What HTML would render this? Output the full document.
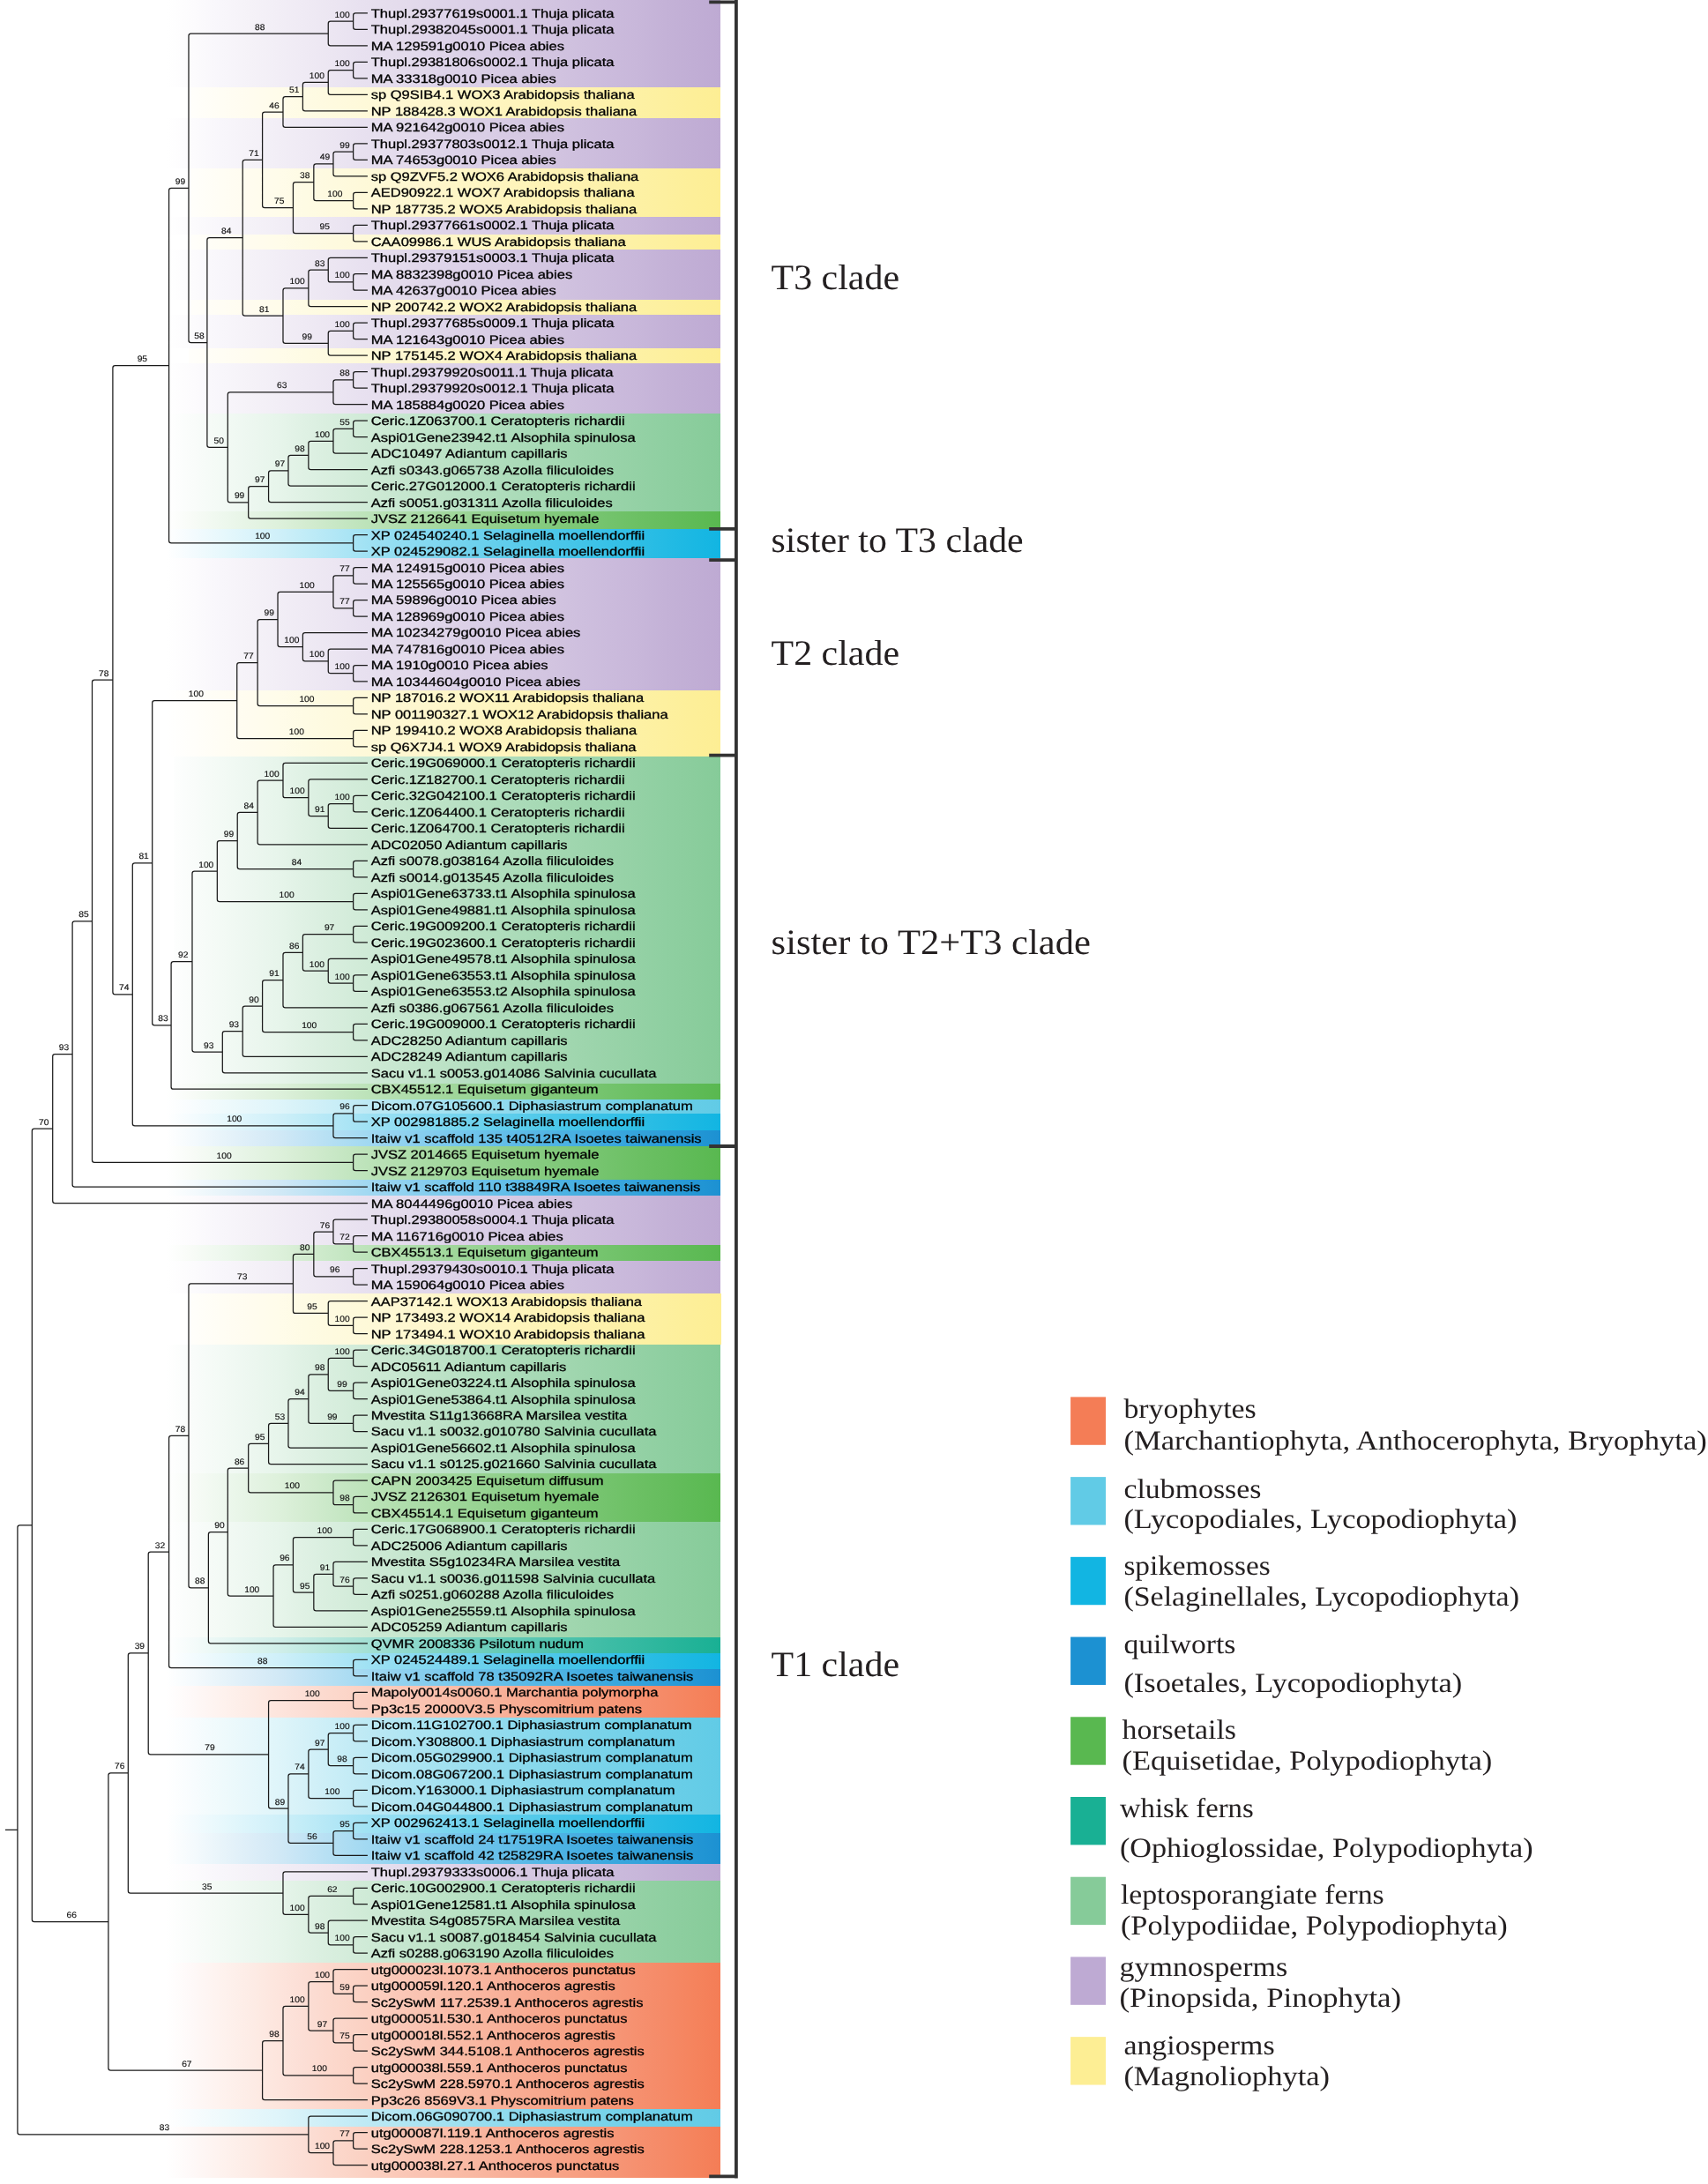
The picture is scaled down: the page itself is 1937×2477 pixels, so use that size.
<!DOCTYPE html>
<html lang="en"><head><meta charset="utf-8"><title>WOX phylogeny</title>
<style>html,body{margin:0;padding:0;background:#fff}svg{display:block;will-change:transform;opacity:.9999}text{text-rendering:geometricPrecision}.lf{font-family:"Liberation Sans",sans-serif;font-size:13.75px;fill:#000;stroke:#000;stroke-width:.3px}.bs{font-family:"Liberation Sans",sans-serif;font-size:9.6px;fill:#111;text-anchor:middle;stroke:#111;stroke-width:.15px}.cl{font-family:"Liberation Serif",serif;font-size:40.5px;fill:#231f20}.lg{font-family:"Liberation Serif",serif;font-size:31.2px;fill:#231f20}</style></head><body>
<svg width="1937" height="2477" viewBox="0 0 1937 2477">
<defs>
<linearGradient id="g-bry" gradientUnits="userSpaceOnUse" x1="189" y1="0" x2="816.9" y2="0"><stop offset="0" stop-color="#ffffff"/><stop offset="0.05" stop-color="#fef8f7"/><stop offset="0.1" stop-color="#fef2ee"/><stop offset="0.15" stop-color="#fdece6"/><stop offset="0.2" stop-color="#fde5dd"/><stop offset="0.25" stop-color="#fcded5"/><stop offset="0.3" stop-color="#fcd8cc"/><stop offset="0.35" stop-color="#fbd2c4"/><stop offset="0.4" stop-color="#fbcbbb"/><stop offset="0.45" stop-color="#fac4b3"/><stop offset="0.5" stop-color="#fabeaa"/><stop offset="0.55" stop-color="#f9b8a2"/><stop offset="0.6" stop-color="#f8b19a"/><stop offset="0.65" stop-color="#f8aa91"/><stop offset="0.7" stop-color="#f7a489"/><stop offset="0.75" stop-color="#f79e80"/><stop offset="0.8" stop-color="#f69778"/><stop offset="0.85" stop-color="#f6906f"/><stop offset="0.9" stop-color="#f58a67"/><stop offset="0.95" stop-color="#f5845e"/><stop offset="1" stop-color="#f47d56"/></linearGradient>
<linearGradient id="g-club" gradientUnits="userSpaceOnUse" x1="189" y1="0" x2="816.9" y2="0"><stop offset="0" stop-color="#ffffff"/><stop offset="0.05" stop-color="#f7fcfe"/><stop offset="0.1" stop-color="#effafc"/><stop offset="0.15" stop-color="#e7f7fb"/><stop offset="0.2" stop-color="#dff5fa"/><stop offset="0.25" stop-color="#d5f1f8"/><stop offset="0.3" stop-color="#caeef7"/><stop offset="0.35" stop-color="#c0eaf5"/><stop offset="0.4" stop-color="#b6e7f3"/><stop offset="0.45" stop-color="#ace4f2"/><stop offset="0.5" stop-color="#a3e1f0"/><stop offset="0.55" stop-color="#9adeef"/><stop offset="0.6" stop-color="#92dbee"/><stop offset="0.65" stop-color="#8ad9ed"/><stop offset="0.7" stop-color="#83d6eb"/><stop offset="0.75" stop-color="#7dd4ea"/><stop offset="0.8" stop-color="#77d2e9"/><stop offset="0.85" stop-color="#71d0e9"/><stop offset="0.9" stop-color="#6bcee8"/><stop offset="0.95" stop-color="#66cde7"/><stop offset="1" stop-color="#61cbe6"/></linearGradient>
<linearGradient id="g-spike" gradientUnits="userSpaceOnUse" x1="189" y1="0" x2="816.9" y2="0"><stop offset="0" stop-color="#ffffff"/><stop offset="0.05" stop-color="#f3fbfe"/><stop offset="0.1" stop-color="#e7f8fc"/><stop offset="0.15" stop-color="#dbf4fb"/><stop offset="0.2" stop-color="#d0f0f9"/><stop offset="0.25" stop-color="#c1ecf7"/><stop offset="0.3" stop-color="#b3e7f6"/><stop offset="0.35" stop-color="#a4e3f4"/><stop offset="0.4" stop-color="#96def2"/><stop offset="0.45" stop-color="#89daf1"/><stop offset="0.5" stop-color="#7cd6ef"/><stop offset="0.55" stop-color="#6fd2ed"/><stop offset="0.6" stop-color="#63ceec"/><stop offset="0.65" stop-color="#57cbea"/><stop offset="0.7" stop-color="#4cc7e9"/><stop offset="0.75" stop-color="#42c4e8"/><stop offset="0.8" stop-color="#37c1e7"/><stop offset="0.85" stop-color="#2ebee5"/><stop offset="0.9" stop-color="#24bbe4"/><stop offset="0.95" stop-color="#1bb8e3"/><stop offset="1" stop-color="#12b5e2"/></linearGradient>
<linearGradient id="g-quil" gradientUnits="userSpaceOnUse" x1="189" y1="0" x2="816.9" y2="0"><stop offset="0" stop-color="#ffffff"/><stop offset="0.05" stop-color="#f4fafd"/><stop offset="0.1" stop-color="#e8f4fa"/><stop offset="0.15" stop-color="#ddeef8"/><stop offset="0.2" stop-color="#d2e9f6"/><stop offset="0.25" stop-color="#c3e4f5"/><stop offset="0.3" stop-color="#b4dff3"/><stop offset="0.35" stop-color="#a5daf2"/><stop offset="0.4" stop-color="#97d4f0"/><stop offset="0.45" stop-color="#8acfef"/><stop offset="0.5" stop-color="#7dcaed"/><stop offset="0.55" stop-color="#70c4eb"/><stop offset="0.6" stop-color="#65bfe9"/><stop offset="0.65" stop-color="#5ab9e6"/><stop offset="0.7" stop-color="#4fb4e4"/><stop offset="0.75" stop-color="#46aee1"/><stop offset="0.8" stop-color="#3ca8de"/><stop offset="0.85" stop-color="#34a3db"/><stop offset="0.9" stop-color="#2c9dd8"/><stop offset="0.95" stop-color="#2497d5"/><stop offset="1" stop-color="#1c91d2"/></linearGradient>
<linearGradient id="g-horse" gradientUnits="userSpaceOnUse" x1="189" y1="0" x2="816.9" y2="0"><stop offset="0" stop-color="#ffffff"/><stop offset="0.05" stop-color="#f7fbf6"/><stop offset="0.1" stop-color="#eef8ee"/><stop offset="0.15" stop-color="#e6f4e5"/><stop offset="0.2" stop-color="#def1dc"/><stop offset="0.25" stop-color="#d4ecd1"/><stop offset="0.3" stop-color="#c9e8c7"/><stop offset="0.35" stop-color="#bfe4bc"/><stop offset="0.4" stop-color="#b6e0b2"/><stop offset="0.45" stop-color="#acdca8"/><stop offset="0.5" stop-color="#a3d89e"/><stop offset="0.55" stop-color="#9ad495"/><stop offset="0.6" stop-color="#92d08c"/><stop offset="0.65" stop-color="#89cd83"/><stop offset="0.7" stop-color="#82c97b"/><stop offset="0.75" stop-color="#7ac673"/><stop offset="0.8" stop-color="#73c36c"/><stop offset="0.85" stop-color="#6cc064"/><stop offset="0.9" stop-color="#66bd5e"/><stop offset="0.95" stop-color="#5fbb57"/><stop offset="1" stop-color="#59b850"/></linearGradient>
<linearGradient id="g-whisk" gradientUnits="userSpaceOnUse" x1="189" y1="0" x2="816.9" y2="0"><stop offset="0" stop-color="#ffffff"/><stop offset="0.05" stop-color="#f4fbfa"/><stop offset="0.1" stop-color="#e8f7f4"/><stop offset="0.15" stop-color="#dcf3ef"/><stop offset="0.2" stop-color="#d1efea"/><stop offset="0.25" stop-color="#c3eae3"/><stop offset="0.3" stop-color="#b5e6dc"/><stop offset="0.35" stop-color="#a7e1d6"/><stop offset="0.4" stop-color="#99dcd0"/><stop offset="0.45" stop-color="#8cd8ca"/><stop offset="0.5" stop-color="#7fd3c4"/><stop offset="0.55" stop-color="#73cfbe"/><stop offset="0.6" stop-color="#67cbb8"/><stop offset="0.65" stop-color="#5cc7b3"/><stop offset="0.7" stop-color="#51c3ae"/><stop offset="0.75" stop-color="#47c0a9"/><stop offset="0.8" stop-color="#3dbca5"/><stop offset="0.85" stop-color="#34b9a1"/><stop offset="0.9" stop-color="#2bb69c"/><stop offset="0.95" stop-color="#22b398"/><stop offset="1" stop-color="#19b094"/></linearGradient>
<linearGradient id="g-lepto" gradientUnits="userSpaceOnUse" x1="189" y1="0" x2="816.9" y2="0"><stop offset="0" stop-color="#ffffff"/><stop offset="0.05" stop-color="#f9fcfa"/><stop offset="0.1" stop-color="#f3faf5"/><stop offset="0.15" stop-color="#edf7f0"/><stop offset="0.2" stop-color="#e7f5eb"/><stop offset="0.25" stop-color="#dff1e4"/><stop offset="0.3" stop-color="#d8eede"/><stop offset="0.35" stop-color="#d1ebd8"/><stop offset="0.4" stop-color="#cae8d2"/><stop offset="0.45" stop-color="#c3e5cc"/><stop offset="0.5" stop-color="#bce2c6"/><stop offset="0.55" stop-color="#b5dfc1"/><stop offset="0.6" stop-color="#afddbc"/><stop offset="0.65" stop-color="#a9dab7"/><stop offset="0.7" stop-color="#a4d8b2"/><stop offset="0.75" stop-color="#9ed5ad"/><stop offset="0.8" stop-color="#99d3a9"/><stop offset="0.85" stop-color="#94d1a5"/><stop offset="0.9" stop-color="#8fcfa1"/><stop offset="0.95" stop-color="#8bcd9d"/><stop offset="1" stop-color="#86cb99"/></linearGradient>
<linearGradient id="g-gym" gradientUnits="userSpaceOnUse" x1="189" y1="0" x2="816.9" y2="0"><stop offset="0" stop-color="#ffffff"/><stop offset="0.05" stop-color="#fcfbfd"/><stop offset="0.1" stop-color="#f8f6fb"/><stop offset="0.15" stop-color="#f5f2f8"/><stop offset="0.2" stop-color="#f2eef6"/><stop offset="0.25" stop-color="#efeaf4"/><stop offset="0.3" stop-color="#ece6f2"/><stop offset="0.35" stop-color="#e8e1f0"/><stop offset="0.4" stop-color="#e5dded"/><stop offset="0.45" stop-color="#e2d9eb"/><stop offset="0.5" stop-color="#ded4e9"/><stop offset="0.55" stop-color="#dbd0e7"/><stop offset="0.6" stop-color="#d8cce5"/><stop offset="0.65" stop-color="#d5c8e2"/><stop offset="0.7" stop-color="#d2c4e0"/><stop offset="0.75" stop-color="#cebfde"/><stop offset="0.8" stop-color="#cbbbdc"/><stop offset="0.85" stop-color="#c8b7da"/><stop offset="0.9" stop-color="#c4b2d7"/><stop offset="0.95" stop-color="#c1aed5"/><stop offset="1" stop-color="#beaad3"/></linearGradient>
<linearGradient id="g-ang" gradientUnits="userSpaceOnUse" x1="189" y1="0" x2="816.9" y2="0"><stop offset="0" stop-color="#ffffff"/><stop offset="0.05" stop-color="#fffefa"/><stop offset="0.1" stop-color="#fffdf4"/><stop offset="0.15" stop-color="#fffcef"/><stop offset="0.2" stop-color="#fffcea"/><stop offset="0.25" stop-color="#fefbe4"/><stop offset="0.3" stop-color="#fefadf"/><stop offset="0.35" stop-color="#fef9da"/><stop offset="0.4" stop-color="#fef8d4"/><stop offset="0.45" stop-color="#fef7cf"/><stop offset="0.5" stop-color="#fef6ca"/><stop offset="0.55" stop-color="#fef6c4"/><stop offset="0.6" stop-color="#fef5bf"/><stop offset="0.65" stop-color="#fef4b9"/><stop offset="0.7" stop-color="#fef3b4"/><stop offset="0.75" stop-color="#fef2af"/><stop offset="0.8" stop-color="#fdf1a9"/><stop offset="0.85" stop-color="#fdf1a4"/><stop offset="0.9" stop-color="#fdf09f"/><stop offset="0.95" stop-color="#fdef99"/><stop offset="1" stop-color="#fdee94"/></linearGradient>
</defs>
<rect width="1937" height="2477" fill="#fff"/>
<g id="bands" shape-rendering="crispEdges">
<rect x="189" y="0" width="627.9" height="98.9" fill="url(#g-gym)"/>
<rect x="214" y="98.9" width="602.9" height="34.9" fill="url(#g-ang)"/>
<rect x="189" y="133.8" width="627.9" height="57.1" fill="url(#g-gym)"/>
<rect x="214" y="190.9" width="602.9" height="55" fill="url(#g-ang)"/>
<rect x="189" y="245.9" width="627.9" height="20.2" fill="url(#g-gym)"/>
<rect x="214" y="266.1" width="602.9" height="17" fill="url(#g-ang)"/>
<rect x="189" y="283.1" width="627.9" height="56.5" fill="url(#g-gym)"/>
<rect x="214" y="339.6" width="602.9" height="17" fill="url(#g-ang)"/>
<rect x="189" y="356.6" width="627.9" height="38.7" fill="url(#g-gym)"/>
<rect x="214" y="395.3" width="602.9" height="16.7" fill="url(#g-ang)"/>
<rect x="189" y="412" width="627.9" height="57" fill="url(#g-gym)"/>
<rect x="189" y="469" width="627.9" height="111" fill="url(#g-lepto)"/>
<rect x="189" y="580" width="627.9" height="20.2" fill="url(#g-horse)"/>
<rect x="189" y="600.2" width="627.9" height="32.5" fill="url(#g-spike)"/>
<rect x="189" y="632.7" width="627.9" height="150" fill="url(#g-gym)"/>
<rect x="172.5" y="782.7" width="644.4" height="74.8" fill="url(#g-ang)"/>
<rect x="197" y="857.5" width="619.9" height="371.5" fill="url(#g-lepto)"/>
<rect x="189" y="1229" width="627.9" height="18" fill="url(#g-horse)"/>
<rect x="189" y="1247" width="627.9" height="16.1" fill="url(#g-club)"/>
<rect x="189" y="1263.1" width="627.9" height="19.2" fill="url(#g-spike)"/>
<rect x="189" y="1282.3" width="627.9" height="17.7" fill="url(#g-quil)"/>
<rect x="189" y="1300" width="627.9" height="37.7" fill="url(#g-horse)"/>
<rect x="189" y="1337.7" width="627.9" height="18.3" fill="url(#g-quil)"/>
<rect x="189" y="1356" width="627.9" height="55.7" fill="url(#g-gym)"/>
<rect x="189" y="1411.7" width="627.9" height="18" fill="url(#g-horse)"/>
<rect x="189" y="1429.7" width="627.9" height="36.8" fill="url(#g-gym)"/>
<rect x="214" y="1466.5" width="604.1" height="58.4" fill="url(#g-ang)"/>
<rect x="189" y="1524.9" width="627.9" height="145.8" fill="url(#g-lepto)"/>
<rect x="189" y="1670.7" width="627.9" height="55.2" fill="url(#g-horse)"/>
<rect x="189" y="1725.9" width="627.9" height="131.2" fill="url(#g-lepto)"/>
<rect x="189" y="1857.1" width="627.9" height="17.9" fill="url(#g-whisk)"/>
<rect x="189" y="1875" width="627.9" height="18" fill="url(#g-spike)"/>
<rect x="189" y="1893" width="627.9" height="19.1" fill="url(#g-quil)"/>
<rect x="189" y="1912.1" width="627.9" height="35.6" fill="url(#g-bry)"/>
<rect x="189" y="1947.7" width="627.9" height="110.2" fill="url(#g-club)"/>
<rect x="189" y="2057.9" width="627.9" height="21.2" fill="url(#g-spike)"/>
<rect x="189" y="2079.1" width="627.9" height="34.6" fill="url(#g-quil)"/>
<rect x="189" y="2113.7" width="627.9" height="19.1" fill="url(#g-gym)"/>
<rect x="189" y="2132.8" width="627.9" height="92.8" fill="url(#g-lepto)"/>
<rect x="189" y="2225.6" width="627.9" height="166.1" fill="url(#g-bry)"/>
<rect x="189" y="2391.7" width="627.9" height="20.4" fill="url(#g-club)"/>
<rect x="189" y="2412.1" width="627.9" height="57.5" fill="url(#g-bry)"/>
</g>
<path id="tree" fill="none" stroke="#1a1a1a" stroke-width="1.25" d="M5.97 2075.36H19.91M36.33 1729.81H22.51Q19.91 1729.81 19.91 1732.41V2418.31Q19.91 2420.91 22.51 2420.91H349.86M59.72 1280.08H38.93Q36.33 1280.08 36.33 1282.68V2176.94Q36.33 2179.54 38.93 2179.54H122.92M82.11 1195.5H62.32Q59.72 1195.5 59.72 1198.1V1362.07Q59.72 1364.67 62.32 1364.67H416.9M104.51 1044.81H84.71Q82.11 1044.81 82.11 1047.41V1343.58Q82.11 1346.18 84.71 1346.18H416.9M127.9 771.18H107.11Q104.51 771.18 104.51 773.78V1315.85Q104.51 1318.45 107.11 1318.45H400.62M191.6 414.55H130.5Q127.9 414.55 127.9 417.15V1125.22Q127.9 1127.82 130.5 1127.82H150.29M213.99 213.27H194.2Q191.6 213.27 191.6 215.87V613.22Q191.6 615.82 194.2 615.82H400.62M372.25 38.01H216.59Q213.99 38.01 213.99 40.61V385.93Q213.99 388.53 216.59 388.53H234.9M400.62 24.14H374.85Q372.25 24.14 372.25 26.75V49.28Q372.25 51.88 374.85 51.88H416.9M416.9 14.9H403.22Q400.62 14.9 400.62 17.5V30.79Q400.62 33.39 403.22 33.39H416.9M275.21 269.72H237.5Q234.9 269.72 234.9 272.32V504.74Q234.9 507.34 237.5 507.34H258.29M297.6 181.31H277.81Q275.21 181.31 275.21 183.91V355.52Q275.21 358.12 277.81 358.12H320.99M320.99 127H300.2Q297.6 127 297.6 129.6V233.02Q297.6 235.62 300.2 235.62H332.44M343.39 109.66H323.59Q320.99 109.66 320.99 112.26V141.73Q320.99 144.33 323.59 144.33H416.9M372.25 93.48H345.99Q343.39 93.48 343.39 96.08V123.24Q343.39 125.84 345.99 125.84H416.9M400.62 79.62H374.85Q372.25 79.62 372.25 82.22V104.75Q372.25 107.35 374.85 107.35H416.9M416.9 70.37H403.22Q400.62 70.37 400.62 72.97V86.26Q400.62 88.86 403.22 88.86H416.9M355.83 206.73H335.04Q332.44 206.73 332.44 209.33V261.91Q332.44 264.51 335.04 264.51H400.62M377.97 185.93H358.43Q355.83 185.93 355.83 188.53V224.94Q355.83 227.53 358.43 227.53H400.62M400.62 172.06H380.57Q377.97 172.06 377.97 174.66V197.2Q377.97 199.8 380.57 199.8H416.9M416.9 162.82H403.22Q400.62 162.82 400.62 165.42V178.71Q400.62 181.31 403.22 181.31H416.9M416.9 218.29H403.22Q400.62 218.29 400.62 220.89V234.18Q400.62 236.78 403.22 236.78H416.9M416.9 255.27H403.22Q400.62 255.27 400.62 257.87V271.16Q400.62 273.76 403.22 273.76H416.9M349.86 326.92H323.59Q320.99 326.92 320.99 329.52V386.72Q320.99 389.32 323.59 389.32H372.25M372.25 306.12H352.46Q349.86 306.12 349.86 308.72V345.12Q349.86 347.72 352.46 347.72H416.9M416.9 292.25H374.85Q372.25 292.25 372.25 294.85V317.38Q372.25 319.98 374.85 319.98H400.62M416.9 310.74H403.22Q400.62 310.74 400.62 313.34V326.63Q400.62 329.23 403.22 329.23H416.9M400.62 375.45H374.85Q372.25 375.45 372.25 378.05V400.59Q372.25 403.19 374.85 403.19H416.9M416.9 366.21H403.22Q400.62 366.21 400.62 368.81V382.1Q400.62 384.7 403.22 384.7H416.9M377.97 444.79H260.89Q258.29 444.79 258.29 447.39V567.29Q258.29 569.89 260.89 569.89H281.68M400.62 430.92H380.57Q377.97 430.92 377.97 433.52V456.06Q377.97 458.66 380.57 458.66H416.9M416.9 421.68H403.22Q400.62 421.68 400.62 424.28V437.57Q400.62 440.17 403.22 440.17H416.9M304.57 551.69H284.28Q281.68 551.69 281.68 554.29V585.49Q281.68 588.09 284.28 588.09H416.9M326.96 533.78H307.17Q304.57 533.78 304.57 536.38V567Q304.57 569.6 307.17 569.6H416.9M349.86 516.44H329.56Q326.96 516.44 326.96 519.04V548.51Q326.96 551.11 329.56 551.11H416.9M377.97 500.26H352.46Q349.86 500.26 349.86 502.86V530.02Q349.86 532.62 352.46 532.62H416.9M400.62 486.39H380.57Q377.97 486.39 377.97 488.99V511.53Q377.97 514.13 380.57 514.13H416.9M416.9 477.15H403.22Q400.62 477.15 400.62 479.75V493.04Q400.62 495.64 403.22 495.64H416.9M416.9 606.58H403.22Q400.62 606.58 400.62 609.18V622.47Q400.62 625.07 403.22 625.07H416.9M172.69 978.8H152.89Q150.29 978.8 150.29 981.4V1274.24Q150.29 1276.84 152.89 1276.84H377.97M268.74 794.66H175.29Q172.69 794.66 172.69 797.26V1160.34Q172.69 1162.94 175.29 1162.94H194.09M292.13 751.61H271.34Q268.74 751.61 268.74 754.21V835.1Q268.74 837.7 271.34 837.7H400.62M315.02 702.5H294.73Q292.13 702.5 292.13 705.1V798.12Q292.13 800.72 294.73 800.72H400.62M377.97 671.29H317.62Q315.02 671.29 315.02 673.89V731.1Q315.02 733.7 317.62 733.7H343.39M400.62 652.8H380.57Q377.97 652.8 377.97 655.4V687.18Q377.97 689.78 380.57 689.78H400.62M416.9 643.56H403.22Q400.62 643.56 400.62 646.16V659.45Q400.62 662.05 403.22 662.05H416.9M416.9 680.54H403.22Q400.62 680.54 400.62 683.14V696.43Q400.62 699.03 403.22 699.03H416.9M416.9 717.52H345.99Q343.39 717.52 343.39 720.12V747.28Q343.39 749.88 345.99 749.88H372.25M416.9 736.01H374.85Q372.25 736.01 372.25 738.61V761.14Q372.25 763.74 374.85 763.74H400.62M416.9 754.5H403.22Q400.62 754.5 400.62 757.1V770.39Q400.62 772.99 403.22 772.99H416.9M416.9 791.48H403.22Q400.62 791.48 400.62 794.08V807.37Q400.62 809.97 403.22 809.97H416.9M416.9 828.46H403.22Q400.62 828.46 400.62 831.06V844.35Q400.62 846.95 403.22 846.95H416.9M217.98 1090.64H196.69Q194.09 1090.64 194.09 1093.24V1232.64Q194.09 1235.24 196.69 1235.24H416.9M246.34 988.08H220.58Q217.98 988.08 217.98 990.68V1190.6Q217.98 1193.2 220.58 1193.2H252.31M269.23 953.56H248.94Q246.34 953.56 246.34 956.16V1020Q246.34 1022.6 248.94 1022.6H400.62M292.13 921.49H271.83Q269.23 921.49 269.23 924.09V983.02Q269.23 985.62 271.83 985.62H400.62M320.99 885.09H294.73Q292.13 885.09 292.13 887.69V955.29Q292.13 957.89 294.73 957.89H416.9M416.9 865.44H323.59Q320.99 865.44 320.99 868.04V902.13Q320.99 904.73 323.59 904.73H349.86M416.9 883.93H352.46Q349.86 883.93 349.86 886.53V922.93Q349.86 925.53 352.46 925.53H372.25M400.62 911.66H374.85Q372.25 911.66 372.25 914.26V936.8Q372.25 939.4 374.85 939.4H416.9M416.9 902.42H403.22Q400.62 902.42 400.62 905.02V918.31Q400.62 920.91 403.22 920.91H416.9M416.9 976.38H403.22Q400.62 976.38 400.62 978.98V992.27Q400.62 994.87 403.22 994.87H416.9M416.9 1013.36H403.22Q400.62 1013.36 400.62 1015.96V1029.25Q400.62 1031.85 403.22 1031.85H416.9M275.21 1169.66H254.91Q252.31 1169.66 252.31 1172.26V1214.15Q252.31 1216.75 254.91 1216.75H416.9M297.6 1141.06H277.81Q275.21 1141.06 275.21 1143.66V1195.66Q275.21 1198.26 277.81 1198.26H416.9M320.99 1111.59H300.2Q297.6 1111.59 297.6 1114.19V1167.93Q297.6 1170.53 300.2 1170.53H400.62M343.39 1080.39H323.59Q320.99 1080.39 320.99 1082.99V1140.19Q320.99 1142.79 323.59 1142.79H416.9M400.62 1059.59H345.99Q343.39 1059.59 343.39 1062.18V1098.59Q343.39 1101.19 345.99 1101.19H372.25M416.9 1050.34H403.22Q400.62 1050.34 400.62 1052.94V1066.23Q400.62 1068.83 403.22 1068.83H416.9M416.9 1087.32H374.85Q372.25 1087.32 372.25 1089.92V1112.45Q372.25 1115.05 374.85 1115.05H400.62M416.9 1105.81H403.22Q400.62 1105.81 400.62 1108.41V1121.7Q400.62 1124.3 403.22 1124.3H416.9M416.9 1161.28H403.22Q400.62 1161.28 400.62 1163.88V1177.17Q400.62 1179.77 403.22 1179.77H416.9M400.62 1262.97H380.57Q377.97 1262.97 377.97 1265.57V1288.11Q377.97 1290.71 380.57 1290.71H416.9M416.9 1253.73H403.22Q400.62 1253.73 400.62 1256.33V1269.62Q400.62 1272.22 403.22 1272.22H416.9M416.9 1309.2H403.22Q400.62 1309.2 400.62 1311.8V1325.09Q400.62 1327.69 403.22 1327.69H416.9M145.32 2010.98H125.52Q122.92 2010.98 122.92 2013.58V2345.51Q122.92 2348.11 125.52 2348.11H297.6M168.21 1874.93H147.92Q145.32 1874.93 145.32 1877.53V2144.43Q145.32 2147.03 147.92 2147.03H320.99M191.6 1760H170.81Q168.21 1760 168.21 1762.6V1987.26Q168.21 1989.86 170.81 1989.86H304.57M213.99 1628.37H194.2Q191.6 1628.37 191.6 1630.97V1889.03Q191.6 1891.63 194.2 1891.63H400.62M332.44 1455.96H216.59Q213.99 1455.96 213.99 1458.56V1798.17Q213.99 1800.77 216.59 1800.77H236.39M355.83 1422.45H335.04Q332.44 1422.45 332.44 1425.05V1486.88Q332.44 1489.48 335.04 1489.48H372.25M377.97 1397.03H358.43Q355.83 1397.03 355.83 1399.63V1445.28Q355.83 1447.88 358.43 1447.88H400.62M416.9 1383.16H380.57Q377.97 1383.16 377.97 1385.76V1408.3Q377.97 1410.89 380.57 1410.89H400.62M416.9 1401.65H403.22Q400.62 1401.65 400.62 1404.25V1417.54Q400.62 1420.14 403.22 1420.14H416.9M416.9 1438.63H403.22Q400.62 1438.63 400.62 1441.23V1454.52Q400.62 1457.12 403.22 1457.12H416.9M416.9 1475.61H374.85Q372.25 1475.61 372.25 1478.21V1500.74Q372.25 1503.34 374.85 1503.34H400.62M416.9 1494.1H403.22Q400.62 1494.1 400.62 1496.7V1509.99Q400.62 1512.59 403.22 1512.59H416.9M258.29 1737.65H238.99Q236.39 1737.65 236.39 1740.25V1861.3Q236.39 1863.9 238.99 1863.9H416.9M281.68 1665.13H260.89Q258.29 1665.13 258.29 1667.73V1807.56Q258.29 1810.16 260.89 1810.16H310.04M304.57 1637.4H284.28Q281.68 1637.4 281.68 1640V1690.27Q281.68 1692.87 284.28 1692.87H377.97M326.96 1614.28H307.17Q304.57 1614.28 304.57 1616.88V1657.91Q304.57 1660.51 307.17 1660.51H416.9M349.86 1586.55H329.56Q326.96 1586.55 326.96 1589.15V1639.42Q326.96 1642.02 329.56 1642.02H416.9M372.25 1558.81H352.46Q349.86 1558.81 349.86 1561.41V1611.68Q349.86 1614.28 352.46 1614.28H400.62M400.62 1540.32H374.85Q372.25 1540.32 372.25 1542.92V1574.7Q372.25 1577.3 374.85 1577.3H400.62M416.9 1531.08H403.22Q400.62 1531.08 400.62 1533.68V1546.97Q400.62 1549.57 403.22 1549.57H416.9M416.9 1568.06H403.22Q400.62 1568.06 400.62 1570.66V1583.95Q400.62 1586.55 403.22 1586.55H416.9M416.9 1605.04H403.22Q400.62 1605.04 400.62 1607.64V1620.93Q400.62 1623.53 403.22 1623.53H416.9M416.9 1679H380.57Q377.97 1679 377.97 1681.6V1704.14Q377.97 1706.74 380.57 1706.74H400.62M416.9 1697.49H403.22Q400.62 1697.49 400.62 1700.09V1713.38Q400.62 1715.98 403.22 1715.98H416.9M332.44 1774.92H312.64Q310.04 1774.92 310.04 1777.52V1842.81Q310.04 1845.41 312.64 1845.41H416.9M400.62 1743.72H335.04Q332.44 1743.72 332.44 1746.32V1803.52Q332.44 1806.12 335.04 1806.12H355.83M416.9 1734.47H403.22Q400.62 1734.47 400.62 1737.07V1750.36Q400.62 1752.96 403.22 1752.96H416.9M377.97 1785.32H358.43Q355.83 1785.32 355.83 1787.92V1824.32Q355.83 1826.92 358.43 1826.92H416.9M416.9 1771.45H380.57Q377.97 1771.45 377.97 1774.05V1796.59Q377.97 1799.18 380.57 1799.18H400.62M416.9 1789.94H403.22Q400.62 1789.94 400.62 1792.54V1805.83Q400.62 1808.43 403.22 1808.43H416.9M416.9 1882.39H403.22Q400.62 1882.39 400.62 1884.99V1898.28Q400.62 1900.88 403.22 1900.88H416.9M400.62 1928.61H307.17Q304.57 1928.61 304.57 1931.21V2048.51Q304.57 2051.11 307.17 2051.11H326.96M416.9 1919.37H403.22Q400.62 1919.37 400.62 1921.97V1935.26Q400.62 1937.86 403.22 1937.86H416.9M349.86 2011.82H329.56Q326.96 2011.82 326.96 2014.42V2087.8Q326.96 2090.4 329.56 2090.4H377.97M372.25 1984.08H352.46Q349.86 1984.08 349.86 1986.68V2036.95Q349.86 2039.55 352.46 2039.55H400.62M400.62 1965.59H374.85Q372.25 1965.59 372.25 1968.19V1999.97Q372.25 2002.57 374.85 2002.57H400.62M416.9 1956.35H403.22Q400.62 1956.35 400.62 1958.95V1972.24Q400.62 1974.84 403.22 1974.84H416.9M416.9 1993.33H403.22Q400.62 1993.33 400.62 1995.93V2009.22Q400.62 2011.82 403.22 2011.82H416.9M416.9 2030.31H403.22Q400.62 2030.31 400.62 2032.91V2046.2Q400.62 2048.8 403.22 2048.8H416.9M400.62 2076.53H380.57Q377.97 2076.53 377.97 2079.13V2101.67Q377.97 2104.27 380.57 2104.27H416.9M416.9 2067.29H403.22Q400.62 2067.29 400.62 2069.89V2083.18Q400.62 2085.78 403.22 2085.78H416.9M416.9 2122.76H323.59Q320.99 2122.76 320.99 2125.36V2168.7Q320.99 2171.3 323.59 2171.3H349.86M400.62 2150.49H352.46Q349.86 2150.49 349.86 2153.09V2189.5Q349.86 2192.1 352.46 2192.1H372.25M416.9 2141.25H403.22Q400.62 2141.25 400.62 2143.85V2157.14Q400.62 2159.74 403.22 2159.74H416.9M416.9 2178.23H374.85Q372.25 2178.23 372.25 2180.83V2203.37Q372.25 2205.97 374.85 2205.97H400.62M416.9 2196.72H403.22Q400.62 2196.72 400.62 2199.32V2212.61Q400.62 2215.21 403.22 2215.21H416.9M320.99 2314.59H300.2Q297.6 2314.59 297.6 2317.19V2379.02Q297.6 2381.62 300.2 2381.62H416.9M349.86 2275.3H323.59Q320.99 2275.3 320.99 2277.9V2351.29Q320.99 2353.89 323.59 2353.89H400.62M377.97 2247.57H352.46Q349.86 2247.57 349.86 2250.17V2300.44Q349.86 2303.04 352.46 2303.04H377.97M416.9 2233.7H380.57Q377.97 2233.7 377.97 2236.3V2258.84Q377.97 2261.43 380.57 2261.43H400.62M416.9 2252.19H403.22Q400.62 2252.19 400.62 2254.79V2268.08Q400.62 2270.68 403.22 2270.68H416.9M416.9 2289.17H380.57Q377.97 2289.17 377.97 2291.77V2314.3Q377.97 2316.9 380.57 2316.9H400.62M416.9 2307.66H403.22Q400.62 2307.66 400.62 2310.26V2323.55Q400.62 2326.15 403.22 2326.15H416.9M416.9 2344.64H403.22Q400.62 2344.64 400.62 2347.24V2360.53Q400.62 2363.13 403.22 2363.13H416.9M416.9 2400.11H352.46Q349.86 2400.11 349.86 2402.71V2439.11Q349.86 2441.71 352.46 2441.71H377.97M400.62 2427.84H380.57Q377.97 2427.84 377.97 2430.44V2452.98Q377.97 2455.58 380.57 2455.58H416.9M416.9 2418.6H403.22Q400.62 2418.6 400.62 2421.2V2434.49Q400.62 2437.09 403.22 2437.09H416.9"/>
<g id="bootstrap" class="bs">
<text transform="translate(49.62 1275.58) scale(1.07 1)">70</text>
<text transform="translate(72.52 1191) scale(1.07 1)">93</text>
<text transform="translate(94.91 1040.31) scale(1.07 1)">85</text>
<text transform="translate(117.8 766.68) scale(1.07 1)">78</text>
<text transform="translate(161.35 410.05) scale(1.07 1)">95</text>
<text transform="translate(204.4 208.77) scale(1.07 1)">99</text>
<text transform="translate(294.72 33.51) scale(1.07 1)">88</text>
<text transform="translate(388.03 19.64) scale(1.07 1)">100</text>
<text transform="translate(226.05 384.03) scale(1.07 1)">58</text>
<text transform="translate(256.65 265.22) scale(1.07 1)">84</text>
<text transform="translate(288 176.81) scale(1.07 1)">71</text>
<text transform="translate(310.9 122.5) scale(1.07 1)">46</text>
<text transform="translate(333.79 105.16) scale(1.07 1)">51</text>
<text transform="translate(359.42 88.98) scale(1.07 1)">100</text>
<text transform="translate(388.03 75.12) scale(1.07 1)">100</text>
<text transform="translate(316.62 231.12) scale(1.07 1)">75</text>
<text transform="translate(345.73 202.23) scale(1.07 1)">38</text>
<text transform="translate(368.5 181.43) scale(1.07 1)">49</text>
<text transform="translate(390.9 167.56) scale(1.07 1)">99</text>
<text transform="translate(379.82 223.03) scale(1.07 1)">100</text>
<text transform="translate(368.13 260.01) scale(1.07 1)">95</text>
<text transform="translate(299.7 353.62) scale(1.07 1)">81</text>
<text transform="translate(337.02 322.42) scale(1.07 1)">100</text>
<text transform="translate(362.65 301.62) scale(1.07 1)">83</text>
<text transform="translate(388.03 315.48) scale(1.07 1)">100</text>
<text transform="translate(348.22 384.82) scale(1.07 1)">99</text>
<text transform="translate(388.03 370.95) scale(1.07 1)">100</text>
<text transform="translate(248.19 502.84) scale(1.07 1)">50</text>
<text transform="translate(319.73 440.29) scale(1.07 1)">63</text>
<text transform="translate(390.9 426.42) scale(1.07 1)">88</text>
<text transform="translate(271.58 565.39) scale(1.07 1)">99</text>
<text transform="translate(294.72 547.19) scale(1.07 1)">97</text>
<text transform="translate(317.37 529.28) scale(1.07 1)">97</text>
<text transform="translate(340.01 511.94) scale(1.07 1)">98</text>
<text transform="translate(365.51 495.76) scale(1.07 1)">100</text>
<text transform="translate(390.9 481.89) scale(1.07 1)">55</text>
<text transform="translate(297.71 611.32) scale(1.07 1)">100</text>
<text transform="translate(140.7 1123.32) scale(1.07 1)">74</text>
<text transform="translate(163.09 974.3) scale(1.07 1)">81</text>
<text transform="translate(222.31 790.16) scale(1.07 1)">100</text>
<text transform="translate(282.03 747.11) scale(1.07 1)">77</text>
<text transform="translate(305.17 698) scale(1.07 1)">99</text>
<text transform="translate(348.1 666.79) scale(1.07 1)">100</text>
<text transform="translate(390.9 648.3) scale(1.07 1)">77</text>
<text transform="translate(390.9 685.28) scale(1.07 1)">77</text>
<text transform="translate(330.8 729.2) scale(1.07 1)">100</text>
<text transform="translate(359.42 745.38) scale(1.07 1)">100</text>
<text transform="translate(388.03 759.24) scale(1.07 1)">100</text>
<text transform="translate(347.97 796.22) scale(1.07 1)">100</text>
<text transform="translate(336.28 833.2) scale(1.07 1)">100</text>
<text transform="translate(184.99 1158.44) scale(1.07 1)">83</text>
<text transform="translate(207.63 1086.14) scale(1.07 1)">92</text>
<text transform="translate(233.76 983.58) scale(1.07 1)">100</text>
<text transform="translate(259.39 949.06) scale(1.07 1)">99</text>
<text transform="translate(282.28 916.99) scale(1.07 1)">84</text>
<text transform="translate(308.16 880.59) scale(1.07 1)">100</text>
<text transform="translate(337.02 900.23) scale(1.07 1)">100</text>
<text transform="translate(362.65 921.03) scale(1.07 1)">91</text>
<text transform="translate(388.03 907.16) scale(1.07 1)">100</text>
<text transform="translate(336.53 981.12) scale(1.07 1)">84</text>
<text transform="translate(325.08 1018.1) scale(1.07 1)">100</text>
<text transform="translate(236.74 1188.7) scale(1.07 1)">93</text>
<text transform="translate(265.36 1165.16) scale(1.07 1)">93</text>
<text transform="translate(288 1136.56) scale(1.07 1)">90</text>
<text transform="translate(310.9 1107.09) scale(1.07 1)">91</text>
<text transform="translate(333.79 1075.89) scale(1.07 1)">86</text>
<text transform="translate(373.6 1055.09) scale(1.07 1)">97</text>
<text transform="translate(359.42 1096.69) scale(1.07 1)">100</text>
<text transform="translate(388.03 1110.55) scale(1.07 1)">100</text>
<text transform="translate(350.71 1166.03) scale(1.07 1)">100</text>
<text transform="translate(265.73 1272.34) scale(1.07 1)">100</text>
<text transform="translate(390.9 1258.47) scale(1.07 1)">96</text>
<text transform="translate(254.16 1313.95) scale(1.07 1)">100</text>
<text transform="translate(81.23 2175.04) scale(1.07 1)">66</text>
<text transform="translate(135.72 2006.48) scale(1.07 1)">76</text>
<text transform="translate(158.36 1870.43) scale(1.07 1)">39</text>
<text transform="translate(181.5 1755.5) scale(1.07 1)">32</text>
<text transform="translate(204.4 1623.87) scale(1.07 1)">78</text>
<text transform="translate(274.82 1451.46) scale(1.07 1)">73</text>
<text transform="translate(345.73 1417.95) scale(1.07 1)">80</text>
<text transform="translate(368.5 1392.53) scale(1.07 1)">76</text>
<text transform="translate(390.9 1406.39) scale(1.07 1)">72</text>
<text transform="translate(379.82 1443.38) scale(1.07 1)">96</text>
<text transform="translate(353.94 1484.98) scale(1.07 1)">95</text>
<text transform="translate(388.03 1498.84) scale(1.07 1)">100</text>
<text transform="translate(226.79 1796.27) scale(1.07 1)">88</text>
<text transform="translate(248.94 1733.15) scale(1.07 1)">90</text>
<text transform="translate(271.58 1660.63) scale(1.07 1)">86</text>
<text transform="translate(294.72 1632.9) scale(1.07 1)">95</text>
<text transform="translate(317.37 1609.78) scale(1.07 1)">53</text>
<text transform="translate(340.01 1582.05) scale(1.07 1)">94</text>
<text transform="translate(362.65 1554.31) scale(1.07 1)">98</text>
<text transform="translate(388.03 1535.82) scale(1.07 1)">100</text>
<text transform="translate(388.03 1572.8) scale(1.07 1)">99</text>
<text transform="translate(376.84 1609.78) scale(1.07 1)">99</text>
<text transform="translate(331.42 1688.37) scale(1.07 1)">100</text>
<text transform="translate(390.9 1702.24) scale(1.07 1)">98</text>
<text transform="translate(285.76 1805.66) scale(1.07 1)">100</text>
<text transform="translate(322.84 1770.42) scale(1.07 1)">96</text>
<text transform="translate(368.13 1739.22) scale(1.07 1)">100</text>
<text transform="translate(345.73 1801.62) scale(1.07 1)">95</text>
<text transform="translate(368.5 1780.82) scale(1.07 1)">91</text>
<text transform="translate(390.9 1794.68) scale(1.07 1)">76</text>
<text transform="translate(297.71 1887.13) scale(1.07 1)">88</text>
<text transform="translate(237.99 1985.36) scale(1.07 1)">79</text>
<text transform="translate(354.19 1924.11) scale(1.07 1)">100</text>
<text transform="translate(317.37 2046.61) scale(1.07 1)">89</text>
<text transform="translate(340.01 2007.32) scale(1.07 1)">74</text>
<text transform="translate(362.65 1979.58) scale(1.07 1)">97</text>
<text transform="translate(388.03 1961.09) scale(1.07 1)">100</text>
<text transform="translate(388.03 1998.07) scale(1.07 1)">98</text>
<text transform="translate(376.84 2035.05) scale(1.07 1)">100</text>
<text transform="translate(354.07 2085.9) scale(1.07 1)">56</text>
<text transform="translate(390.9 2072.03) scale(1.07 1)">95</text>
<text transform="translate(234.75 2142.53) scale(1.07 1)">35</text>
<text transform="translate(337.02 2166.8) scale(1.07 1)">100</text>
<text transform="translate(376.84 2145.99) scale(1.07 1)">62</text>
<text transform="translate(362.65 2187.6) scale(1.07 1)">98</text>
<text transform="translate(388.03 2201.47) scale(1.07 1)">100</text>
<text transform="translate(211.86 2343.61) scale(1.07 1)">67</text>
<text transform="translate(310.9 2310.09) scale(1.07 1)">98</text>
<text transform="translate(337.02 2270.8) scale(1.07 1)">100</text>
<text transform="translate(365.51 2243.07) scale(1.07 1)">100</text>
<text transform="translate(390.9 2256.93) scale(1.07 1)">59</text>
<text transform="translate(365.51 2298.54) scale(1.07 1)">97</text>
<text transform="translate(390.9 2312.4) scale(1.07 1)">75</text>
<text transform="translate(362.4 2349.39) scale(1.07 1)">100</text>
<text transform="translate(186.48 2416.41) scale(1.07 1)">83</text>
<text transform="translate(365.51 2437.21) scale(1.07 1)">100</text>
<text transform="translate(390.9 2423.34) scale(1.07 1)">77</text>
</g>
<g id="leaves" class="lf">
<text transform="translate(420.7 19.85) scale(1.2 1)">Thupl.29377619s0001.1 Thuja plicata</text>
<text transform="translate(420.7 38.34) scale(1.2 1)">Thupl.29382045s0001.1 Thuja plicata</text>
<text transform="translate(420.7 56.83) scale(1.2 1)">MA 129591g0010 Picea abies</text>
<text transform="translate(420.7 75.32) scale(1.2 1)">Thupl.29381806s0002.1 Thuja plicata</text>
<text transform="translate(420.7 93.81) scale(1.2 1)">MA 33318g0010 Picea abies</text>
<text transform="translate(420.7 112.3) scale(1.2 1)">sp Q9SIB4.1 WOX3 Arabidopsis thaliana</text>
<text transform="translate(420.7 130.79) scale(1.2 1)">NP 188428.3 WOX1 Arabidopsis thaliana</text>
<text transform="translate(420.7 149.28) scale(1.2 1)">MA 921642g0010 Picea abies</text>
<text transform="translate(420.7 167.77) scale(1.2 1)">Thupl.29377803s0012.1 Thuja plicata</text>
<text transform="translate(420.7 186.26) scale(1.2 1)">MA 74653g0010 Picea abies</text>
<text transform="translate(420.7 204.75) scale(1.2 1)">sp Q9ZVF5.2 WOX6 Arabidopsis thaliana</text>
<text transform="translate(420.7 223.24) scale(1.2 1)">AED90922.1 WOX7 Arabidopsis thaliana</text>
<text transform="translate(420.7 241.73) scale(1.2 1)">NP 187735.2 WOX5 Arabidopsis thaliana</text>
<text transform="translate(420.7 260.22) scale(1.2 1)">Thupl.29377661s0002.1 Thuja plicata</text>
<text transform="translate(420.7 278.71) scale(1.2 1)">CAA09986.1 WUS Arabidopsis thaliana</text>
<text transform="translate(420.7 297.2) scale(1.2 1)">Thupl.29379151s0003.1 Thuja plicata</text>
<text transform="translate(420.7 315.69) scale(1.2 1)">MA 8832398g0010 Picea abies</text>
<text transform="translate(420.7 334.18) scale(1.2 1)">MA 42637g0010 Picea abies</text>
<text transform="translate(420.7 352.67) scale(1.2 1)">NP 200742.2 WOX2 Arabidopsis thaliana</text>
<text transform="translate(420.7 371.16) scale(1.2 1)">Thupl.29377685s0009.1 Thuja plicata</text>
<text transform="translate(420.7 389.65) scale(1.2 1)">MA 121643g0010 Picea abies</text>
<text transform="translate(420.7 408.14) scale(1.2 1)">NP 175145.2 WOX4 Arabidopsis thaliana</text>
<text transform="translate(420.7 426.63) scale(1.2 1)">Thupl.29379920s0011.1 Thuja plicata</text>
<text transform="translate(420.7 445.12) scale(1.2 1)">Thupl.29379920s0012.1 Thuja plicata</text>
<text transform="translate(420.7 463.61) scale(1.2 1)">MA 185884g0020 Picea abies</text>
<text transform="translate(420.7 482.1) scale(1.2 1)">Ceric.1Z063700.1 Ceratopteris richardii</text>
<text transform="translate(420.7 500.59) scale(1.2 1)">Aspi01Gene23942.t1 Alsophila spinulosa</text>
<text transform="translate(420.7 519.08) scale(1.2 1)">ADC10497 Adiantum capillaris</text>
<text transform="translate(420.7 537.57) scale(1.2 1)">Azfi s0343.g065738 Azolla filiculoides</text>
<text transform="translate(420.7 556.06) scale(1.2 1)">Ceric.27G012000.1 Ceratopteris richardii</text>
<text transform="translate(420.7 574.55) scale(1.2 1)">Azfi s0051.g031311 Azolla filiculoides</text>
<text transform="translate(420.7 593.04) scale(1.2 1)">JVSZ 2126641 Equisetum hyemale</text>
<text transform="translate(420.7 611.53) scale(1.2 1)">XP 024540240.1 Selaginella moellendorffii</text>
<text transform="translate(420.7 630.02) scale(1.2 1)">XP 024529082.1 Selaginella moellendorffii</text>
<text transform="translate(420.7 648.51) scale(1.2 1)">MA 124915g0010 Picea abies</text>
<text transform="translate(420.7 667) scale(1.2 1)">MA 125565g0010 Picea abies</text>
<text transform="translate(420.7 685.49) scale(1.2 1)">MA 59896g0010 Picea abies</text>
<text transform="translate(420.7 703.98) scale(1.2 1)">MA 128969g0010 Picea abies</text>
<text transform="translate(420.7 722.47) scale(1.2 1)">MA 10234279g0010 Picea abies</text>
<text transform="translate(420.7 740.96) scale(1.2 1)">MA 747816g0010 Picea abies</text>
<text transform="translate(420.7 759.45) scale(1.2 1)">MA 1910g0010 Picea abies</text>
<text transform="translate(420.7 777.94) scale(1.2 1)">MA 10344604g0010 Picea abies</text>
<text transform="translate(420.7 796.43) scale(1.2 1)">NP 187016.2 WOX11 Arabidopsis thaliana</text>
<text transform="translate(420.7 814.92) scale(1.2 1)">NP 001190327.1 WOX12 Arabidopsis thaliana</text>
<text transform="translate(420.7 833.41) scale(1.2 1)">NP 199410.2 WOX8 Arabidopsis thaliana</text>
<text transform="translate(420.7 851.9) scale(1.2 1)">sp Q6X7J4.1 WOX9 Arabidopsis thaliana</text>
<text transform="translate(420.7 870.39) scale(1.2 1)">Ceric.19G069000.1 Ceratopteris richardii</text>
<text transform="translate(420.7 888.88) scale(1.2 1)">Ceric.1Z182700.1 Ceratopteris richardii</text>
<text transform="translate(420.7 907.37) scale(1.2 1)">Ceric.32G042100.1 Ceratopteris richardii</text>
<text transform="translate(420.7 925.86) scale(1.2 1)">Ceric.1Z064400.1 Ceratopteris richardii</text>
<text transform="translate(420.7 944.35) scale(1.2 1)">Ceric.1Z064700.1 Ceratopteris richardii</text>
<text transform="translate(420.7 962.84) scale(1.2 1)">ADC02050 Adiantum capillaris</text>
<text transform="translate(420.7 981.33) scale(1.2 1)">Azfi s0078.g038164 Azolla filiculoides</text>
<text transform="translate(420.7 999.82) scale(1.2 1)">Azfi s0014.g013545 Azolla filiculoides</text>
<text transform="translate(420.7 1018.31) scale(1.2 1)">Aspi01Gene63733.t1 Alsophila spinulosa</text>
<text transform="translate(420.7 1036.8) scale(1.2 1)">Aspi01Gene49881.t1 Alsophila spinulosa</text>
<text transform="translate(420.7 1055.29) scale(1.2 1)">Ceric.19G009200.1 Ceratopteris richardii</text>
<text transform="translate(420.7 1073.78) scale(1.2 1)">Ceric.19G023600.1 Ceratopteris richardii</text>
<text transform="translate(420.7 1092.27) scale(1.2 1)">Aspi01Gene49578.t1 Alsophila spinulosa</text>
<text transform="translate(420.7 1110.76) scale(1.2 1)">Aspi01Gene63553.t1 Alsophila spinulosa</text>
<text transform="translate(420.7 1129.25) scale(1.2 1)">Aspi01Gene63553.t2 Alsophila spinulosa</text>
<text transform="translate(420.7 1147.74) scale(1.2 1)">Azfi s0386.g067561 Azolla filiculoides</text>
<text transform="translate(420.7 1166.23) scale(1.2 1)">Ceric.19G009000.1 Ceratopteris richardii</text>
<text transform="translate(420.7 1184.72) scale(1.2 1)">ADC28250 Adiantum capillaris</text>
<text transform="translate(420.7 1203.21) scale(1.2 1)">ADC28249 Adiantum capillaris</text>
<text transform="translate(420.7 1221.7) scale(1.2 1)">Sacu v1.1 s0053.g014086 Salvinia cucullata</text>
<text transform="translate(420.7 1240.19) scale(1.2 1)">CBX45512.1 Equisetum giganteum</text>
<text transform="translate(420.7 1258.68) scale(1.2 1)">Dicom.07G105600.1 Diphasiastrum complanatum</text>
<text transform="translate(420.7 1277.17) scale(1.2 1)">XP 002981885.2 Selaginella moellendorffii</text>
<text transform="translate(420.7 1295.66) scale(1.2 1)">Itaiw v1 scaffold 135 t40512RA Isoetes taiwanensis</text>
<text transform="translate(420.7 1314.15) scale(1.2 1)">JVSZ 2014665 Equisetum hyemale</text>
<text transform="translate(420.7 1332.64) scale(1.2 1)">JVSZ 2129703 Equisetum hyemale</text>
<text transform="translate(420.7 1351.13) scale(1.2 1)">Itaiw v1 scaffold 110 t38849RA Isoetes taiwanensis</text>
<text transform="translate(420.7 1369.62) scale(1.2 1)">MA 8044496g0010 Picea abies</text>
<text transform="translate(420.7 1388.11) scale(1.2 1)">Thupl.29380058s0004.1 Thuja plicata</text>
<text transform="translate(420.7 1406.6) scale(1.2 1)">MA 116716g0010 Picea abies</text>
<text transform="translate(420.7 1425.09) scale(1.2 1)">CBX45513.1 Equisetum giganteum</text>
<text transform="translate(420.7 1443.58) scale(1.2 1)">Thupl.29379430s0010.1 Thuja plicata</text>
<text transform="translate(420.7 1462.07) scale(1.2 1)">MA 159064g0010 Picea abies</text>
<text transform="translate(420.7 1480.56) scale(1.2 1)">AAP37142.1 WOX13 Arabidopsis thaliana</text>
<text transform="translate(420.7 1499.05) scale(1.2 1)">NP 173493.2 WOX14 Arabidopsis thaliana</text>
<text transform="translate(420.7 1517.54) scale(1.2 1)">NP 173494.1 WOX10 Arabidopsis thaliana</text>
<text transform="translate(420.7 1536.03) scale(1.2 1)">Ceric.34G018700.1 Ceratopteris richardii</text>
<text transform="translate(420.7 1554.52) scale(1.2 1)">ADC05611 Adiantum capillaris</text>
<text transform="translate(420.7 1573.01) scale(1.2 1)">Aspi01Gene03224.t1 Alsophila spinulosa</text>
<text transform="translate(420.7 1591.5) scale(1.2 1)">Aspi01Gene53864.t1 Alsophila spinulosa</text>
<text transform="translate(420.7 1609.99) scale(1.2 1)">Mvestita S11g13668RA Marsilea vestita</text>
<text transform="translate(420.7 1628.48) scale(1.2 1)">Sacu v1.1 s0032.g010780 Salvinia cucullata</text>
<text transform="translate(420.7 1646.97) scale(1.2 1)">Aspi01Gene56602.t1 Alsophila spinulosa</text>
<text transform="translate(420.7 1665.46) scale(1.2 1)">Sacu v1.1 s0125.g021660 Salvinia cucullata</text>
<text transform="translate(420.7 1683.95) scale(1.2 1)">CAPN 2003425 Equisetum diffusum</text>
<text transform="translate(420.7 1702.44) scale(1.2 1)">JVSZ 2126301 Equisetum hyemale</text>
<text transform="translate(420.7 1720.93) scale(1.2 1)">CBX45514.1 Equisetum giganteum</text>
<text transform="translate(420.7 1739.42) scale(1.2 1)">Ceric.17G068900.1 Ceratopteris richardii</text>
<text transform="translate(420.7 1757.91) scale(1.2 1)">ADC25006 Adiantum capillaris</text>
<text transform="translate(420.7 1776.4) scale(1.2 1)">Mvestita S5g10234RA Marsilea vestita</text>
<text transform="translate(420.7 1794.89) scale(1.2 1)">Sacu v1.1 s0036.g011598 Salvinia cucullata</text>
<text transform="translate(420.7 1813.38) scale(1.2 1)">Azfi s0251.g060288 Azolla filiculoides</text>
<text transform="translate(420.7 1831.87) scale(1.2 1)">Aspi01Gene25559.t1 Alsophila spinulosa</text>
<text transform="translate(420.7 1850.36) scale(1.2 1)">ADC05259 Adiantum capillaris</text>
<text transform="translate(420.7 1868.85) scale(1.2 1)">QVMR 2008336 Psilotum nudum</text>
<text transform="translate(420.7 1887.34) scale(1.2 1)">XP 024524489.1 Selaginella moellendorffii</text>
<text transform="translate(420.7 1905.83) scale(1.2 1)">Itaiw v1 scaffold 78 t35092RA Isoetes taiwanensis</text>
<text transform="translate(420.7 1924.32) scale(1.2 1)">Mapoly0014s0060.1 Marchantia polymorpha</text>
<text transform="translate(420.7 1942.81) scale(1.2 1)">Pp3c15 20000V3.5 Physcomitrium patens</text>
<text transform="translate(420.7 1961.3) scale(1.2 1)">Dicom.11G102700.1 Diphasiastrum complanatum</text>
<text transform="translate(420.7 1979.79) scale(1.2 1)">Dicom.Y308800.1 Diphasiastrum complanatum</text>
<text transform="translate(420.7 1998.28) scale(1.2 1)">Dicom.05G029900.1 Diphasiastrum complanatum</text>
<text transform="translate(420.7 2016.77) scale(1.2 1)">Dicom.08G067200.1 Diphasiastrum complanatum</text>
<text transform="translate(420.7 2035.26) scale(1.2 1)">Dicom.Y163000.1 Diphasiastrum complanatum</text>
<text transform="translate(420.7 2053.75) scale(1.2 1)">Dicom.04G044800.1 Diphasiastrum complanatum</text>
<text transform="translate(420.7 2072.24) scale(1.2 1)">XP 002962413.1 Selaginella moellendorffii</text>
<text transform="translate(420.7 2090.73) scale(1.2 1)">Itaiw v1 scaffold 24 t17519RA Isoetes taiwanensis</text>
<text transform="translate(420.7 2109.22) scale(1.2 1)">Itaiw v1 scaffold 42 t25829RA Isoetes taiwanensis</text>
<text transform="translate(420.7 2127.71) scale(1.2 1)">Thupl.29379333s0006.1 Thuja plicata</text>
<text transform="translate(420.7 2146.2) scale(1.2 1)">Ceric.10G002900.1 Ceratopteris richardii</text>
<text transform="translate(420.7 2164.69) scale(1.2 1)">Aspi01Gene12581.t1 Alsophila spinulosa</text>
<text transform="translate(420.7 2183.18) scale(1.2 1)">Mvestita S4g08575RA Marsilea vestita</text>
<text transform="translate(420.7 2201.67) scale(1.2 1)">Sacu v1.1 s0087.g018454 Salvinia cucullata</text>
<text transform="translate(420.7 2220.16) scale(1.2 1)">Azfi s0288.g063190 Azolla filiculoides</text>
<text transform="translate(420.7 2238.65) scale(1.2 1)">utg000023l.1073.1 Anthoceros punctatus</text>
<text transform="translate(420.7 2257.14) scale(1.2 1)">utg000059l.120.1 Anthoceros agrestis</text>
<text transform="translate(420.7 2275.63) scale(1.2 1)">Sc2ySwM 117.2539.1 Anthoceros agrestis</text>
<text transform="translate(420.7 2294.12) scale(1.2 1)">utg000051l.530.1 Anthoceros punctatus</text>
<text transform="translate(420.7 2312.61) scale(1.2 1)">utg000018l.552.1 Anthoceros agrestis</text>
<text transform="translate(420.7 2331.1) scale(1.2 1)">Sc2ySwM 344.5108.1 Anthoceros agrestis</text>
<text transform="translate(420.7 2349.59) scale(1.2 1)">utg000038l.559.1 Anthoceros punctatus</text>
<text transform="translate(420.7 2368.08) scale(1.2 1)">Sc2ySwM 228.5970.1 Anthoceros agrestis</text>
<text transform="translate(420.7 2386.57) scale(1.2 1)">Pp3c26 8569V3.1 Physcomitrium patens</text>
<text transform="translate(420.7 2405.06) scale(1.2 1)">Dicom.06G090700.1 Diphasiastrum complanatum</text>
<text transform="translate(420.7 2423.55) scale(1.2 1)">utg000087l.119.1 Anthoceros agrestis</text>
<text transform="translate(420.7 2442.04) scale(1.2 1)">Sc2ySwM 228.1253.1 Anthoceros agrestis</text>
<text transform="translate(420.7 2460.53) scale(1.2 1)">utg000038l.27.1 Anthoceros punctatus</text>
</g>
<path id="bracket" fill="none" stroke="#333" stroke-width="3.8" d="M834.9 0V2470.4M804.2 2.35H836.8M804.2 599.9H836.8M804.2 635.2H836.8M804.2 856.6H836.8M804.2 1300H836.8M804.2 2468.4H836.8"/>
<g id="clades" class="cl">
<text x="874.6" y="327.9" textLength="145.4" lengthAdjust="spacingAndGlyphs">T3 clade</text>
<text x="874.6" y="625.8" textLength="286.1" lengthAdjust="spacingAndGlyphs">sister to T3 clade</text>
<text x="874.6" y="754.3" textLength="145.4" lengthAdjust="spacingAndGlyphs">T2 clade</text>
<text x="874.6" y="1081.8" textLength="362.2" lengthAdjust="spacingAndGlyphs">sister to T2+T3 clade</text>
<text x="874.6" y="1900.7" textLength="145.4" lengthAdjust="spacingAndGlyphs">T1 clade</text>
</g>
<g id="legend" class="lg">
<rect x="1214.1" y="1584.4" width="39.9" height="54.4" fill="#f47d56"/>
<text x="1274.4" y="1608.3" textLength="150.4" lengthAdjust="spacingAndGlyphs">bryophytes</text>
<text x="1274.4" y="1643.7" textLength="661.4" lengthAdjust="spacingAndGlyphs">(Marchantiophyta, Anthocerophyta, Bryophyta)</text>
<rect x="1214.1" y="1675.12" width="39.9" height="54.4" fill="#61cbe6"/>
<text x="1274.4" y="1698.7" textLength="156.1" lengthAdjust="spacingAndGlyphs">clubmosses</text>
<text x="1274.4" y="1733.2" textLength="446" lengthAdjust="spacingAndGlyphs">(Lycopodiales, Lycopodiophyta)</text>
<rect x="1214.1" y="1765.84" width="39.9" height="54.4" fill="#12b5e2"/>
<text x="1274.4" y="1786.4" textLength="166.3" lengthAdjust="spacingAndGlyphs">spikemosses</text>
<text x="1274.4" y="1821" textLength="448.6" lengthAdjust="spacingAndGlyphs">(Selaginellales, Lycopodiophyta)</text>
<rect x="1214.1" y="1856.56" width="39.9" height="54.4" fill="#1c91d2"/>
<text x="1274.4" y="1875.1" textLength="126.9" lengthAdjust="spacingAndGlyphs">quilworts</text>
<text x="1274.4" y="1918.5" textLength="383.9" lengthAdjust="spacingAndGlyphs">(Isoetales, Lycopodiophyta)</text>
<rect x="1214.1" y="1947.28" width="39.9" height="54.4" fill="#59b850"/>
<text x="1272.5" y="1971.7" textLength="129.5" lengthAdjust="spacingAndGlyphs">horsetails</text>
<text x="1272.5" y="2006.9" textLength="419.8" lengthAdjust="spacingAndGlyphs">(Equisetidae, Polypodiophyta)</text>
<rect x="1214.1" y="2038" width="39.9" height="54.4" fill="#19b094"/>
<text x="1270" y="2061.4" textLength="151.7" lengthAdjust="spacingAndGlyphs">whisk ferns</text>
<text x="1270" y="2105.8" textLength="468.6" lengthAdjust="spacingAndGlyphs">(Ophioglossidae, Polypodiophyta)</text>
<rect x="1214.1" y="2128.72" width="39.9" height="54.4" fill="#86cb99"/>
<text x="1270.9" y="2159" textLength="298.8" lengthAdjust="spacingAndGlyphs">leptosporangiate ferns</text>
<text x="1270.9" y="2194" textLength="438.9" lengthAdjust="spacingAndGlyphs">(Polypodiidae, Polypodiophyta)</text>
<rect x="1214.1" y="2219.44" width="39.9" height="54.4" fill="#beaad3"/>
<text x="1269.5" y="2240.9" textLength="190.7" lengthAdjust="spacingAndGlyphs">gymnosperms</text>
<text x="1269.5" y="2276.4" textLength="319.7" lengthAdjust="spacingAndGlyphs">(Pinopsida, Pinophyta)</text>
<rect x="1214.1" y="2310.16" width="39.9" height="54.4" fill="#fdee94"/>
<text x="1274.4" y="2329.6" textLength="171.2" lengthAdjust="spacingAndGlyphs">angiosperms</text>
<text x="1274.4" y="2365" textLength="233.7" lengthAdjust="spacingAndGlyphs">(Magnoliophyta)</text>
</g>
</svg></body></html>
